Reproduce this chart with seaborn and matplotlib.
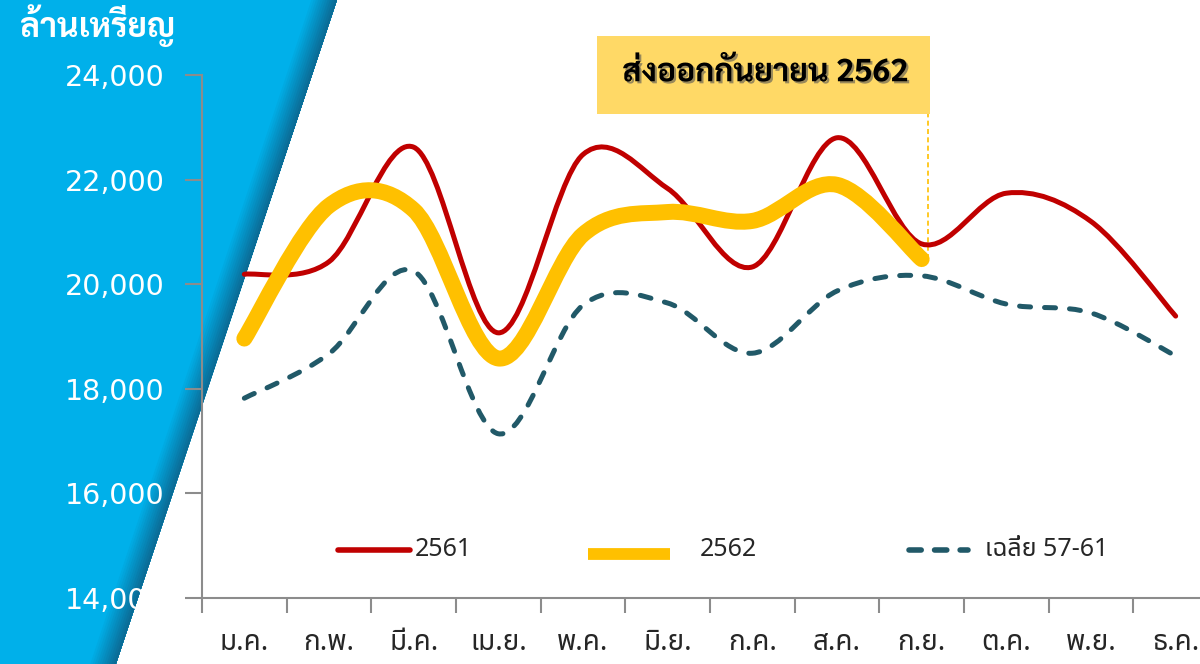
import matplotlib
matplotlib.use("Agg")
import matplotlib.pyplot as plt
import matplotlib.patheffects as pe
from matplotlib.path import Path
from matplotlib.patches import PathPatch, Polygon, Rectangle
from matplotlib.lines import Line2D
import seaborn as sns

# -----------------------------
# Data (million USD)
# -----------------------------

months = ["ม.ค.", "ก.พ.", "มี.ค.", "เม.ย.", "พ.ค.", "มิ.ย.",
          "ก.ค.", "ส.ค.", "ก.ย.", "ต.ค.", "พ.ย.", "ธ.ค."]
exp_2561 = [20190, 20430, 22620, 19070, 22480, 21830,
            20330, 22800, 20770, 21740, 21200, 19390]
exp_2562 = [18960, 21500, 21420, 18580, 20950, 21380,
            21210, 21900, 20480]
avg_5761 = [17820, 18670, 20250, 17140, 19600, 19640,
            18680, 19870, 20160, 19620, 19450, 18630]
yticks = [14000, 16000, 18000, 20000, 22000, 24000]

# -----------------------------
# Fonts
# -----------------------------

sns.set_style("white")
plt.rcParams["font.family"] = ["Noto Sans Thai", "DejaVu Sans"]
LOOPED = ["Sarabun", "DejaVu Sans"]
PLAIN = ["Noto Sans Thai", "DejaVu Sans"]


def smooth_path(xs, ys):
    # Excel style smoothed line: cubic bezier through every data point
    pts = list(zip(xs, ys))
    n = len(pts)
    verts = [pts[0]]
    codes = [Path.MOVETO]
    for i in range(n - 1):
        p0 = pts[i - 1] if i > 0 else pts[i]
        p1 = pts[i]
        p2 = pts[i + 1]
        p3 = pts[i + 2] if i + 2 < n else pts[i + 1]
        c1 = (p1[0] + (p2[0] - p0[0]) / 6, p1[1] + (p2[1] - p0[1]) / 6)
        c2 = (p2[0] - (p3[0] - p1[0]) / 6, p2[1] - (p3[1] - p1[1]) / 6)
        verts += [c1, c2, p2]
        codes += [Path.CURVE4] * 3
    return Path(verts, codes)


fig = plt.figure(figsize=(12, 6.64), dpi=100)

# blue slanted background on the left
fig.add_artist(Polygon([(0, 0), (0, 1), (337 / 1200, 1), (116 / 1200, 0)],
                       closed=True, transform=fig.transFigure,
                       facecolor="#00B0EA", edgecolor="none", zorder=-3))
for k in range(12):
    w = 28 * (1 - k / 12)
    shade = sns.blend_palette(["#00B0EA", "#0B6C96"], 12)[k]
    fig.add_artist(Polygon([((337 - w) / 1200, 1), (337 / 1200, 1),
                            (116 / 1200, 0), ((116 - w) / 1200, 0)],
                           closed=True, transform=fig.transFigure,
                           facecolor=shade, edgecolor="none", zorder=-2))

ax = fig.add_axes([202 / 1200, 1 - 598 / 664, 1016 / 1200, 523 / 664])
ax.set_facecolor("none")

x_all = list(range(len(months)))

ax.add_patch(PathPatch(smooth_path(x_all, avg_5761), fill=False,
                       edgecolor="#215968", linewidth=3.6,
                       linestyle=(0, (2.2, 2.8)), capstyle="round",
                       zorder=3))
ax.add_patch(PathPatch(smooth_path(x_all, exp_2561), fill=False,
                       edgecolor="#C00000", linewidth=3.6,
                       capstyle="round", joinstyle="round", zorder=4))
ax.add_patch(PathPatch(smooth_path(x_all[:len(exp_2562)], exp_2562),
                       fill=False, edgecolor="#FFC000", linewidth=11.5,
                       capstyle="round", joinstyle="round", zorder=5))

ax.set_xlim(-0.5, len(months) - 0.5)
ax.set_ylim(14000, 24000)
ax.set_yticks(yticks)
ax.set_yticklabels([f"{v:,}" for v in yticks], color="white", fontsize=20.5,
                   family=["DejaVu Sans"])
ax.set_xticks(x_all)
ax.set_xticklabels(months, fontsize=20, family=PLAIN)
ax.set_xticks([i - 0.5 for i in range(len(months) + 1)], minor=True)

ax.tick_params(axis="y", which="major", direction="out", length=12,
               width=1.5, color="#8C8C8C", pad=15, left=True)
ax.tick_params(axis="x", which="major", length=0, pad=22)
ax.tick_params(axis="x", which="minor", direction="out", length=11,
               width=1.5, color="#8C8C8C", bottom=True)

for s in ["top", "right"]:
    ax.spines[s].set_visible(False)
for s in ["left", "bottom"]:
    ax.spines[s].set_color("#8C8C8C")
    ax.spines[s].set_linewidth(1.5)

# dashed marker line at September
ax.plot([8.08, 8.08], [exp_2562[-1], 24730], color="#FFC000",
        linewidth=1.2, linestyle=(0, (3, 2)), clip_on=False, zorder=2)

# -----------------------------
# Annotation box
# -----------------------------

fig.add_artist(Rectangle((597 / 1200, 1 - 114 / 664), 333 / 1200, 78 / 664,
                         transform=fig.transFigure, facecolor="#FFD966",
                         edgecolor="none", zorder=1))
fig.text(765 / 1200, 1 - 73 / 664, "ส่งออกกันยายน 2562", fontsize=23,
         fontweight="bold", ha="center", va="center", color="black",
         family=LOOPED, zorder=6,
         path_effects=[pe.SimplePatchShadow(offset=(1.5, -1.5),
                                            shadow_rgbFace="#555555",
                                            alpha=0.6),
                       pe.Normal()])

fig.text(20 / 1200, 1 - 26 / 664, "ล้านเหรียญ", fontsize=24,
         fontweight="bold", color="white", ha="left", va="center",
         family=LOOPED)

# -----------------------------
# Legend
# -----------------------------

ly = 1 - 550 / 664
fig.add_artist(Line2D([338 / 1200, 410 / 1200], [ly, ly], color="#C00000",
                      linewidth=4, solid_capstyle="round",
                      transform=fig.transFigure))
fig.text(415 / 1200, ly, "2561", fontsize=18, va="center", family=PLAIN)
fig.add_artist(Line2D([588 / 1200, 670 / 1200], [ly - 0.006, ly - 0.006],
                      color="#FFC000", linewidth=8.5,
                      solid_capstyle="butt", transform=fig.transFigure))
fig.text(700 / 1200, ly, "2562", fontsize=18, va="center", family=PLAIN)
fig.add_artist(Line2D([909 / 1200, 968 / 1200], [ly, ly], color="#215968",
                      linewidth=4, linestyle=(0, (2.2, 2.4)),
                      dash_capstyle="round", transform=fig.transFigure))
fig.text(985 / 1200, ly, "เฉลี่ย 57-61", fontsize=18, va="center",
         family=PLAIN)

plt.savefig("out.png", dpi=100)
plt.close()
